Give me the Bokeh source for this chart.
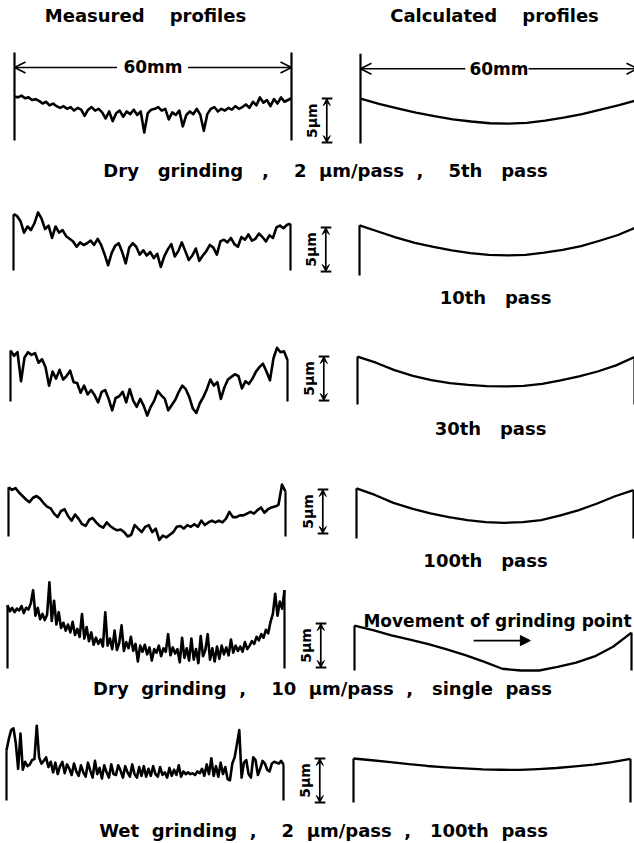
import numpy as np
from bokeh.plotting import figure
from bokeh.models import Range1d, Label, Arrow, OpenHead, VeeHead, NormalHead
from bokeh.embed import file_html
from bokeh.resources import INLINE

NB = "\u00a0"

# ---------------- data (heights in µm, x in mm) ----------------
span_mm = 60
scale_bar_um = 5

measured_5th = [5.0, 4.9, 5.1, 4.8, 4.9, 4.6, 4.7, 4.5, 4.2, 4.4,
                4.0, 4.2, 3.9, 3.7, 3.9, 3.6, 3.8, 3.4, 3.7, 3.5,
                2.8, 3.5, 3.8, 3.4, 3.6, 3.2, 2.5, 3.3, 2.2, 3.1,
                3.4, 2.7, 3.3, 3.0, 3.5, 2.9, 3.3, 0.9, 3.1, 3.5,
                3.6, 3.8, 3.4, 3.6, 2.4, 3.2, 2.9, 3.4, 1.6, 2.9,
                3.3, 3.0, 3.6, 2.9, 1.1, 3.0, 3.6, 3.8, 3.3, 3.6,
                3.4, 3.7, 3.5, 3.9, 3.6, 3.8, 4.1, 3.7, 4.4, 4.0,
                4.9, 4.3, 4.6, 3.9, 4.7, 4.2, 4.9, 4.4, 4.6, 4.8]
measured_10th = [6.4, 6.2, 5.6, 4.3, 5.0, 4.6, 5.4, 6.6, 5.9, 4.7,
                 5.1, 3.7, 5.0, 4.3, 4.6, 3.9, 3.6, 3.3, 2.7, 3.2,
                 2.9, 3.1, 3.4, 2.9, 3.6, 2.9, 1.8, 0.6, 2.0, 2.8,
                 3.1, 2.1, 0.8, 2.6, 3.1, 2.7, 1.8, 2.3, 1.7, 2.1,
                 1.4, 1.9, 0.4, 1.6, 2.4, 3.0, 1.6, 2.2, 3.2, 2.2,
                 1.2, 1.7, 2.5, 1.1, 1.7, 2.2, 2.9, 2.6, 1.8, 3.3,
                 3.5, 3.2, 3.7, 3.0, 2.7, 3.8, 3.5, 4.1, 3.4, 3.6,
                 4.2, 3.8, 3.3, 4.0, 3.7, 4.9, 5.1, 4.8, 5.2, 5.3]
measured_30th = [5.8, 5.2, 5.6, 2.3, 5.0, 5.6, 5.3, 5.5, 4.4, 4.8,
                 3.9, 1.8, 3.4, 2.6, 3.6, 2.5, 2.9, 3.5, 2.2, 2.1,
                 1.0, 1.8, 0.8, 1.3, 0.7, -0.1, 1.1, 1.3, 0.3, -1.0,
                 0.4, 0.6, 1.1, -0.1, 1.4, 0.1, -0.6, 0.3, -0.5, -1.6,
                 -0.6, 0.1, 1.2, 0.7, 0.3, -1.0, -0.4, 0.2, 1.1, 1.8,
                 1.4, 0.5, -0.8, -1.3, -0.2, 0.5, 1.4, 2.5, 1.8, 2.2,
                 0.3, 1.6, 2.5, 2.8, 3.1, 2.9, 1.5, 2.3, 2.0, 2.6,
                 3.4, 3.9, 4.3, 3.4, 2.4, 4.9, 6.1, 5.6, 5.7, 4.7]
measured_100th = [5.6, 5.3, 5.5, 5.0, 4.6, 4.2, 3.9, 4.4, 4.6, 4.3,
                  3.8, 3.4, 3.2, 2.6, 2.2, 2.9, 3.1, 2.3, 1.8, 2.5,
                  2.0, 1.4, 1.2, 1.9, 2.1, 1.6, 1.2, 1.0, 1.6, 1.2,
                  0.9, 0.7, 0.8, 0.5, 0.0, 0.2, 1.3, 0.9, 0.5, 1.1,
                  1.3, 0.5, 0.9, -0.4, 0.1, -0.1, 0.2, 0.5, 1.1, 1.2,
                  0.9, 1.3, 1.1, 1.4, 1.1, 1.8, 1.3, 1.6, 1.8, 1.6,
                  1.8, 1.6, 2.0, 2.8, 2.2, 2.2, 2.4, 2.4, 2.6, 2.8,
                  2.6, 3.0, 3.3, 2.7, 3.1, 3.3, 3.4, 3.6, 5.9, 5.1]
measured_single = [7.2, 6.5, 6.9, 6.4, 6.8, 6.6, 7.1, 6.3, 6.9, 6.7,
                   7.4, 8.9, 6.0, 6.9, 5.6, 6.2, 5.5, 6.1, 9.8, 5.4,
                   7.7, 5.0, 6.4, 4.6, 5.2, 4.3, 5.0, 4.1, 5.3, 3.8,
                   4.5, 3.6, 6.2, 3.4, 4.7, 3.1, 4.1, 2.7, 3.5, 2.8,
                   3.3, 2.5, 6.4, 2.6, 3.4, 2.2, 4.3, 2.1, 2.9, 4.9,
                   2.0, 3.0, 2.3, 3.6, 2.0, 2.8, 0.8, 2.6, 1.9, 2.7,
                   1.6, 2.4, 0.9, 2.2, 1.8, 2.6, 1.4, 2.3, 1.9, 3.9,
                   1.5, 2.4, 1.7, 2.2, 0.7, 3.5, 1.2, 2.3, 0.9, 3.4,
                   1.0, 2.2, 0.6, 3.7, 1.4, 2.1, 3.9, 1.0, 2.3, 0.8,
                   2.5, 1.1, 2.6, 1.6, 2.4, 1.5, 3.3, 1.8, 2.6, 2.0,
                   2.5, 1.9, 3.0, 2.2, 2.6, 3.1, 2.8, 3.6, 3.2, 3.9,
                   3.5, 4.4, 4.0, 5.3, 6.2, 8.5, 6.0, 7.6, 6.8, 8.9]
measured_wet = [5.7, 7.0, 8.0, 8.2, 6.5, 3.6, 7.6, 3.5, 4.4, 3.9,
                4.1, 4.6, 4.7, 8.5, 4.9, 4.2, 4.5, 4.9, 3.8, 4.4,
                3.2, 4.3, 3.0, 3.9, 4.4, 3.1, 4.1, 3.6, 2.9, 4.2,
                3.3, 2.8, 4.0, 3.2, 2.7, 4.3, 3.4, 2.6, 4.5, 3.0,
                3.7, 2.5, 4.0, 3.2, 2.6, 4.1, 3.0, 2.9, 4.0, 3.4,
                2.6, 3.9, 3.2, 2.7, 4.1, 3.0, 2.6, 3.8, 2.8, 3.9,
                2.7, 3.6, 2.8, 3.9, 3.0, 2.7, 3.8, 2.9, 3.2, 2.6,
                3.7, 2.8, 3.5, 2.9, 4.0, 2.7, 3.3, 3.0, 3.2, 3.0,
                3.1, 2.9, 3.3, 3.1, 3.6, 2.8, 4.1, 3.0, 4.8, 2.8,
                3.9, 2.7, 4.3, 3.0, 3.8, 2.4, 2.3, 4.2, 4.9, 6.4,
                8.0, 2.6, 4.3, 4.6, 3.0, 2.6, 4.9, 4.6, 2.9, 3.6,
                4.5, 4.2, 3.5, 3.3, 4.2, 4.4, 4.3, 4.2, 4.5, 4.1]

calc_x_mm = [0, 4, 8, 12, 16, 20, 24, 28, 32, 36, 40, 44, 48, 52, 56, 60]
calc_5th = [5.1, 4.5, 4.0, 3.5, 3.1, 2.75, 2.5, 2.3, 2.25, 2.35, 2.6, 2.95, 3.35, 3.85, 4.35, 4.95]
calc_10th = [5.7, 5.0, 4.3, 3.7, 3.25, 2.85, 2.55, 2.35, 2.28, 2.35, 2.6, 2.9, 3.35, 3.95, 4.6, 5.5]
calc_30th = [5.45, 4.75, 3.9, 3.25, 2.78, 2.43, 2.22, 2.08, 2.05, 2.12, 2.35, 2.75, 3.2, 3.75, 4.45, 5.4]
calc_100th = [5.7, 4.95, 4.05, 3.4, 2.85, 2.43, 2.08, 1.85, 1.78, 1.85, 2.1, 2.6, 3.2, 3.95, 4.8, 5.5]
calc_single = [5.1, 4.6, 4.0, 3.5, 3.0, 2.4, 1.75, 1.0, 0.2, 0.0, 0.0, 0.4, 0.9, 1.6, 2.7, 4.3]
calc_wet = [5.0, 4.8, 4.6, 4.35, 4.15, 4.0, 3.88, 3.77, 3.72, 3.71, 3.8, 3.92, 4.1, 4.3, 4.6, 4.95]


def spaced(words, gaps):
    out = words[0]
    for w, g in zip(words[1:], gaps):
        out += NB * g + w
    return out


header_texts = [spaced(["Measured", "profiles"], [4]), spaced(["Calculated", "profiles"], [4])]
gaps_a = [3, 3, 4, 2, 2, 4, 3]
gaps_b = [2, 2, 4, 2, 2, 3, 2]
row_captions = [
    spaced(["Dry", "grinding", ",", "2", "µm/pass", ",", "5th", "pass"], gaps_a),
    spaced(["10th", "pass"], [3]),
    spaced(["30th", "pass"], [3]),
    spaced(["100th", "pass"], [3]),
    spaced(["Dry", "grinding", ",", "10", "µm/pass", ",", "single", "pass"], gaps_b),
    spaced(["Wet", "grinding", ",", "2", "µm/pass", ",", "100th", "pass"], gaps_b),
]
span_label = "60mm"
bar_label = "5µm"
movement_label = "Movement of grinding point"

# ---------------- layout ----------------
W, H = 634, 843
PX_MM = 277 / 60.0
PX_UM = 8.8
FONT = "DejaVu Sans"

meas_x0 = [14, 13, 10, 8, 7, 6]
meas_base = [140, 270, 401, 536, 668, 800]
calc_x0 = [360, 359, 357, 356, 354, 353]
calc_base = [143, 275, 404, 538, 670, 802]
bar_offset = [0.1, 0.45, 0.45, 0.57, 0.34, 0.0]
caption_pos = [(325, 170), (495, 297), (490, 428), (485, 560), (322, 688), (323, 830)]

rows = [(measured_5th, calc_5th), (measured_10th, calc_10th), (measured_30th, calc_30th),
        (measured_100th, calc_100th), (measured_single, calc_single), (measured_wet, calc_wet)]

p = figure(width=W, height=H, x_range=Range1d(0, W), y_range=Range1d(H, 0),
           output_backend="svg", toolbar_location=None, min_border=0,
           x_axis_location=None, y_axis_location=None)
p.grid.visible = False
p.outline_line_color = None
p.background_fill_color = "white"
p.border_fill_color = "white"

xr, yr = {}, {}
for i in range(6):
    for kind, x0, b in (("m", meas_x0[i], meas_base[i]), ("c", calc_x0[i], calc_base[i])):
        n = f"{kind}{i}"
        xr[n] = Range1d(-x0 / PX_MM, (W - x0) / PX_MM)
        yr[n] = Range1d(-(H - b) / PX_UM, b / PX_UM)
p.extra_x_ranges = xr
p.extra_y_ranges = yr


def label(x, y, text, size, **kw):
    return Label(x=x, y=y, text=text, text_align="center", text_baseline="middle",
                 text_font=FONT, text_font_size=size, text_font_style="bold",
                 text_color="black", **kw)


for i, (meas, calc) in enumerate(rows):
    m, c = f"m{i}", f"c{i}"
    mx = np.linspace(0, span_mm, len(meas))
    p.line(mx, meas, x_range_name=m, y_range_name=m, line_color="black",
           line_width=2.6, line_join="round")
    tl = 10.0 if i == 0 else meas[0]
    tr = 10.0 if i == 0 else meas[-1]
    p.segment([0, span_mm], [0, 0], [0, span_mm], [tl, tr], x_range_name=m, y_range_name=m,
              line_color="black", line_width=2.2)

    p.line(calc_x_mm, calc, x_range_name=c, y_range_name=c, line_color="black",
           line_width=2.3, line_join="round")
    tl = 10.2 if i == 0 else calc[0]
    tr = 10.2 if i == 0 else calc[-1]
    p.segment([0, span_mm], [0, 0], [0, span_mm], [tl, tr], x_range_name=c, y_range_name=c,
              line_color="black", line_width=2.2)

    # 5 µm scale bar
    bx = -7.3
    b0 = bar_offset[i]
    b1 = b0 + scale_bar_um
    p.segment([bx - 1.1, bx - 1.1], [b0, b1], [bx + 1.2, bx + 1.2], [b0, b1],
              x_range_name=c, y_range_name=c, line_color="black", line_width=2)
    p.add_layout(Arrow(start=VeeHead(size=7, fill_color="black", line_color="black"),
                       end=VeeHead(size=7, fill_color="black", line_color="black"),
                       x_start=bx, y_start=b0, x_end=bx, y_end=b1, line_width=1.7,
                       x_range_name=c, y_range_name=c))
    p.add_layout(label(bx - 3.2, (b0 + b1) / 2, bar_label, "14px", angle=np.pi / 2,
                       x_range_name=c, y_range_name=c))

    cx, cy = caption_pos[i]
    p.add_layout(label(cx, cy, row_captions[i], "18px"))

# 60 mm dimension arrows on first row
for name, y, gl, gr in (("m0", 8.3, 22.2, 37.6), ("c0", 8.5, 22.7, 36.4)):
    for xs, xe in ((gl, 0), (gr, span_mm)):
        p.add_layout(Arrow(end=OpenHead(size=11, line_width=1.6, line_color="black"),
                           x_start=xs, y_start=y, x_end=xe, y_end=y, line_width=1.6,
                           x_range_name=name, y_range_name=name))
    p.add_layout(label(span_mm / 2, y, span_label, "17px", x_range_name=name, y_range_name=name))

# headers
p.add_layout(label(145, 15, header_texts[0], "18px"))
p.add_layout(label(494, 15, header_texts[1], "18px"))

# movement of grinding point
p.add_layout(label(497, 620, movement_label, "17px"))
p.add_layout(Arrow(end=NormalHead(size=10, fill_color="black", line_color="black"),
                   x_start=25.8, y_start=3.4, x_end=38.1, y_end=3.4, line_width=1.8,
                   x_range_name="c4", y_range_name="c4"))

open("out.html", "w", encoding="utf-8").write(file_html(p, INLINE))
